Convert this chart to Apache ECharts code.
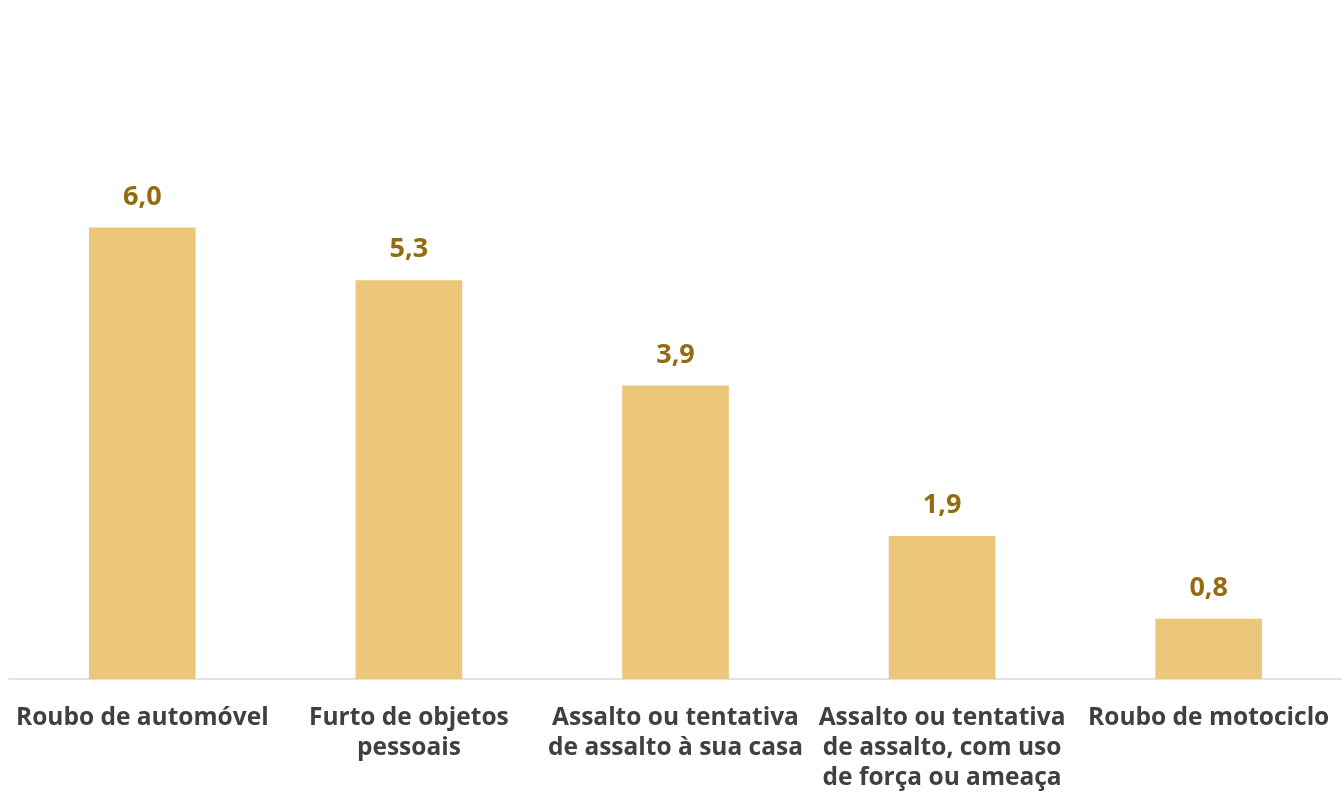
<!DOCTYPE html>
<html>
<head>
<meta charset="utf-8">
<script src="https://cdn.jsdelivr.net/npm/echarts@6/dist/echarts.min.js"></script>
<style>html,body{margin:0;padding:0;background:#fff}#c{width:1342px;height:801px}</style>
</head>
<body>
<div id="c"></div>
<script>
const categories = [
  'Roubo de automóvel',
  'Furto de objetos\npessoais',
  'Assalto ou tentativa\nde assalto à sua casa',
  'Assalto ou tentativa\nde assalto, com uso\nde força ou ameaça',
  'Roubo de motociclo'
];
const values = [6.0, 5.3, 3.9, 1.9, 0.8];

const chart = echarts.init(document.getElementById('c'));
chart.setOption({
  animation: false,
  grid: { left: 9, width: 1338, top: 77, height: 602, containLabel: false },
  xAxis: {
    type: 'category',
    data: categories,
    axisLine: { lineStyle: { color: '#d9d9d9', width: 1.5 } },
    axisTick: { show: false },
    axisLabel: {
      interval: 0,
      margin: 24,
      color: '#404040',
      fontFamily: 'Open Sans',
      fontWeight: 'bold',
      fontSize: 24.5,
      lineHeight: 30
    }
  },
  yAxis: {
    type: 'value', min: 0, max: 8, show: false,
    splitLine: { show: false }
  },
  series: [{
    type: 'bar',
    data: values,
    barWidth: '40%',
    itemStyle: { color: '#ECC679' },
    label: {
      show: true,
      position: 'top',
      distance: 17,
      color: '#946B0E',
      fontFamily: 'Open Sans',
      fontWeight: 'bold',
      fontSize: 27,
      formatter: p => p.value.toFixed(1).replace('.', ',')
    }
  }]
});
</script>
</body>
</html>
